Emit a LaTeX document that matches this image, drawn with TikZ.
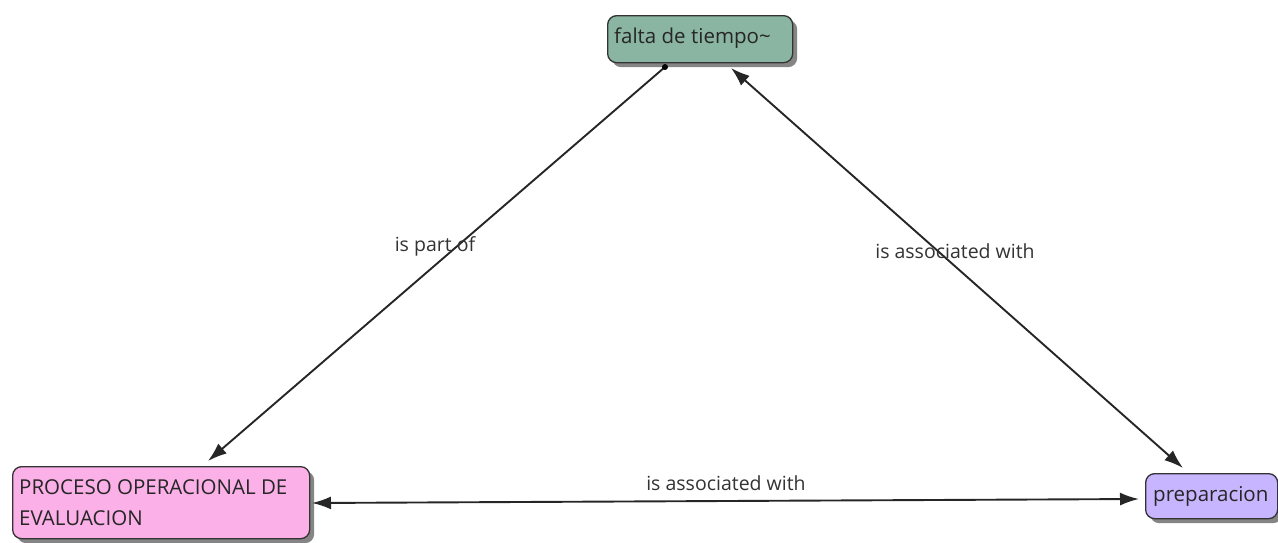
\documentclass[tikz,border=0pt]{standalone}
\usepackage{fontspec}
\setmainfont{Open Sans}
\usetikzlibrary{arrows.meta,shadows}
\definecolor{greenbox}{HTML}{8AB5A2}
\definecolor{pinkbox}{HTML}{FBB0E8}
\definecolor{lilacbox}{HTML}{C7B6FF}
\tikzset{
  concept/.style={draw=black!80, line width=1.3pt, rounded corners=9pt, anchor=north west,
    inner sep=0pt,
    drop shadow={shadow xshift=4.5pt, shadow yshift=-4.5pt, fill=black!60, opacity=0.8}},
  ctext/.style={font=\fontsize{20.5}{31}\selectfont, text=black!85, inner sep=0pt, align=left},
  link/.style={line width=1.9pt, black!85},
  ahead/.tip={Latex[length=19pt,width=13pt]},
  lbl/.style={font=\fontsize{19.5}{22}\selectfont, text=black!80, inner sep=1pt},
}
\begin{document}
\begin{tikzpicture}[x=1pt,y=-1pt]
\useasboundingbox (0,0) rectangle (1278,542);
% concept boxes
\node[concept, fill=greenbox, minimum width=185pt, minimum height=47pt] (falta) at (607,15) {};
\node[ctext, anchor=west] (faltat) at (614,38) {falta de tiempo\char`\~};
\node[concept, fill=pinkbox, minimum width=297pt, minimum height=72pt] (proceso) at (12,466) {};
\node[ctext, anchor=north west] (procesot) at (19,479) {PROCESO OPERACIONAL DE\\EVALUACION};
\node[concept, fill=lilacbox, minimum width=132pt, minimum height=45pt] (prep) at (1145,473) {};
\node[ctext, anchor=west] (prept) at (1153,496) {preparacion};
% connection points
\coordinate (fa) at (665,67);
\coordinate (fb) at (731,68);
\coordinate (pa) at (208,461);
\coordinate (pb) at (312,503);
\coordinate (ra) at (1183,468);
\coordinate (rb) at (1139,499);
% connectors
\draw[link, -ahead] (fa) -- (pa);
\fill[black] (fa) circle (3pt);
\draw[link, ahead-ahead] (fb) -- (ra);
\draw[link, ahead-ahead] (pb) -- (rb);
% labels
\node[lbl] (l1) at (435,246) {is part of};
\node[lbl] (l2) at (955,251) {is associated with};
\node[lbl] (l3) at (726,483) {is associated with};
\end{tikzpicture}
\end{document}
